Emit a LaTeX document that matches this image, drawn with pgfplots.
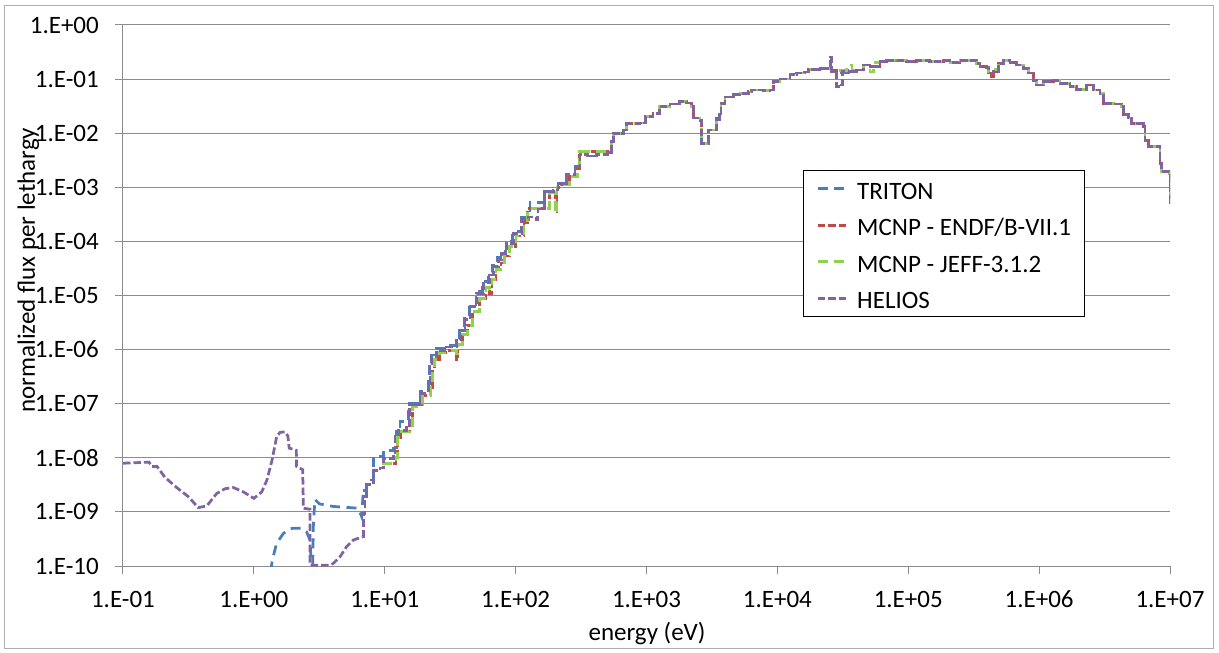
\documentclass[border=0pt]{standalone}
\usepackage{fontspec}
\setmainfont{Carlito}
\usepackage{pgfplots}
\pgfplotsset{compat=1.18}

\definecolor{axisgray}{RGB}{140,140,140}
\definecolor{framegray}{RGB}{175,175,175}
\definecolor{triton}{RGB}{74,126,187}
\definecolor{endf}{RGB}{190,75,72}
\definecolor{jeff}{RGB}{146,208,80}
\definecolor{helios}{RGB}{128,100,162}

\newcommand{\chartfont}{\fontsize{25bp}{30bp}\selectfont}

\begin{document}
\begin{tikzpicture}
\useasboundingbox (0,0) rectangle (1219bp,653bp);
\draw[framegray, line width=1bp] (4bp,4bp) rectangle (1213bp,647bp);
\begin{axis}[
  at={(123bp,87bp)}, anchor=south west,
  scale only axis, width=1047bp, height=541bp,
  xmode=log, ymode=log,
  xmin=1e-1, xmax=1e7, ymin=1e-10, ymax=1,
  axis lines*=left,
  axis line style={draw=axisgray, line width=1bp},
  xtick={1e-1,1,1e1,1e2,1e3,1e4,1e5,1e6,1e7},
  xticklabels={1.E-01,1.E+00,1.E+01,1.E+02,1.E+03,1.E+04,1.E+05,1.E+06,1.E+07},
  ytick={1e-10,1e-9,1e-8,1e-7,1e-6,1e-5,1e-4,1e-3,1e-2,1e-1,1},
  yticklabels={1.E-10,1.E-09,1.E-08,1.E-07,1.E-06,1.E-05,1.E-04,1.E-03,1.E-02,1.E-01,1.E+00},
  xminorticks=false, yminorticks=false,
  tick align=outside, major tick length=8bp,
  tick style={draw=axisgray, line width=1bp},
  ymajorgrids, grid style={draw=axisgray, line width=1bp},
  tick label style={font=\chartfont},
  xticklabel style={anchor=base, inner sep=0pt, yshift=-33bp},
  yticklabel style={anchor=east, inner sep=0pt, xshift=-16bp},
  label style={font=\chartfont},
  xlabel={energy (eV)},
  xlabel style={at={(axis description cs:0.5005,-0.137)}, anchor=base},
  ylabel={normalized flux per lethargy},
  ylabel style={at={(axis description cs:-0.0841,0.547)}, anchor=base},
  legend style={
    at={(axis description cs:0.6495,0.732)}, anchor=north west,
    draw=black, line width=0.9bp, fill=white,
    inner xsep=13bp, inner ysep=6bp,
    row sep=12bp, column sep=9bp,
    font=\chartfont,
    nodes={inner sep=0pt},
    cells={anchor=west},
  },
  legend image code/.code={\draw[#1] (0bp,0bp) -- (29bp,0bp);},
  every axis plot/.append style={line width=2.75bp},
]

% ---------------- TRITON ----------------
\addplot[triton, dash pattern=on 10bp off 6.5bp, sharp plot, forget plot] coordinates {
 (1.349,7.94e-11) (1.380,1.26e-10) (1.493,2.63e-10) (1.679,3.98e-10)
 (1.862,4.79e-10) (2.0,5.01e-10) (2.317,5.01e-10) (2.53,4.27e-10)
 (2.685,3.02e-10) (2.742,1.12e-10) (2.818,1.12e-10) (2.851,6.31e-10)
 (2.931,1.70e-9) (3.162,1.41e-9) (4.046,1.26e-9) (6.28,1.17e-9)
 (6.67,8.13e-10) (6.86,2.51e-9)
};
\addplot[triton, dash pattern=on 10bp off 6.5bp, const plot mark left] coordinates {
 (6.86,2.51e-9) (7.28,3.89e-9) (8.18,1.05e-8) (9.75,1.38e-8)
 (11.6,1.51e-8) (12.3,3.02e-8) (13.1,4.68e-8) (14.7,5.01e-8)
 (15.1,1.02e-7) (17.5,1.12e-7) (18.6,1.66e-7) (21.5,2.63e-7)
 (21.9,6.31e-7) (22.9,7.94e-7) (24.9,1.05e-6) (29.7,1.20e-6)
 (35.1,1.66e-6) (37.2,2.51e-6) (40.6,3.98e-6) (44.3,6.76e-6)
 (49.8,1.17e-5) (56.0,1.82e-5) (62.4,2.63e-5) (66.8,3.63e-5)
 (72.9,5.01e-5) (77.3,6.61e-5) (84.5,1.0e-4) (94.8,1.51e-4)
 (110,2.75e-4) (129,5.25e-4) (158,5.25e-4) (166,8.32e-4)
 (194,8.91e-4) (211,1.17e-3) (245,1.70e-3) (284,2.40e-3)
 (310,3.98e-3) (355,3.80e-3) (417,3.98e-3) (501,4.37e-3)
 (541,6.92e-3) (556,1.0e-2) (664,1.15e-2) (705,1.51e-2)
 (891,1.55e-2) (977,2.04e-2) (1122,2.34e-2) (1259,3.09e-2)
 (1514,3.47e-2) (1799,3.80e-2) (2028,3.63e-2) (2213,3.09e-2)
 (2275,1.91e-2) (2559,1.74e-2) (2636,6.46e-3) (2877,6.46e-3)
 (2965,1.15e-2) (3428,1.82e-2) (3631,2.19e-2) (3715,3.55e-2)
 (3981,4.68e-2) (4603,5.13e-2) (5176,5.50e-2) (5998,5.89e-2)
 (6353,6.31e-2) (7798,6.17e-2) (8770,6.31e-2) (9290,8.91e-2)
 (1.047e4,0.100) (1.247e4,0.120) (1.403e4,0.129) (1.622e4,0.135)
 (1.726e4,0.151) (2.113e4,0.155) (2.512e4,0.158) (2.60e4,0.138)
 (2.818e4,0.129) (4.027e4,0.148) (4.529e4,0.182) (5.093e4,0.170)
 (6.081e4,0.209) (6.839e4,0.224) (8.128e4,0.219) (9.705e4,0.209)
 (1.159e5,0.224) (1.462e5,0.209) (1.862e5,0.219) (2.080e5,0.200)
 (2.483e5,0.219) (2.965e5,0.224) (3.327e5,0.195) (3.532e5,0.170)
 (3.981e5,0.166) (4.093e5,0.129) (4.467e5,0.138) (4.875e5,0.195)
 (5.321e5,0.219) (5.984e5,0.200) (6.730e5,0.182) (7.568e5,0.158)
 (8.260e5,0.129) (9.016e5,0.0955) (9.572e5,0.0776) (1.074e6,0.0891)
 (1.282e6,0.0955) (1.442e6,0.0832) (1.718e6,0.0741) (1.932e6,0.0646)
 (2.307e6,0.0776) (2.594e6,0.0631) (2.917e6,0.0550) (3.090e6,0.0355)
 (3.690e6,0.0347) (4.276e6,0.0309) (4.395e6,0.0219) (4.808e6,0.0191)
 (5.093e6,0.0151) (6.252e6,0.0135) (6.442e6,7.41e-3) (6.839e6,5.75e-3)
 (8.147e6,5.62e-3) (8.395e6,2.75e-3) (8.650e6,1.95e-3) (9.95e6,1.82e-3)
 (9.98e6,5.01e-4)
};
\addlegendentry{\rule[-6bp]{0pt}{29bp}TRITON}

% ---------------- MCNP - ENDF/B-VII.1 ----------------
\addplot[endf, dash pattern=on 7.5bp off 3bp, const plot mark left] coordinates {
 (9.55,7.94e-9) (12.2,1.0e-8) (12.5,2.34e-8) (13.3,3.09e-8)
 (15.4,3.89e-8) (16.2,8.91e-8) (18.4,9.55e-8) (19.5,1.41e-7)
 (22.5,2.00e-7) (23.2,4.47e-7) (23.9,6.61e-7) (26.1,8.91e-7)
 (31.1,9.55e-7) (35.5,6.46e-7) (36.3,1.26e-6) (39.4,1.91e-6)
 (43.0,2.82e-6) (46.9,5.01e-6) (52.7,8.91e-6) (59.3,1.41e-5)
 (63.1,1.10e-5) (66.1,2.0e-5) (70.8,3.02e-5) (77.3,3.98e-5)
 (81.8,5.37e-5) (89.5,7.94e-5) (100.5,1.26e-4) (116,2.24e-4)
 (123,4.07e-4) (182,7.94e-4) (202,3.55e-4) (207,1.0e-3)
 (221,1.12e-3) (257,1.58e-3) (297,2.24e-3) (309,4.57e-3)
 (541,6.92e-3) (556,1.0e-2) (664,1.15e-2) (705,1.51e-2)
 (891,1.55e-2) (977,2.04e-2) (1122,2.34e-2) (1259,3.09e-2)
 (1514,3.47e-2) (1799,3.80e-2) (2028,3.63e-2) (2213,3.09e-2)
 (2275,1.91e-2) (2559,1.74e-2) (2636,6.46e-3) (2877,6.46e-3)
 (2965,1.15e-2) (3428,1.91e-2) (3631,2.19e-2) (3715,3.55e-2)
 (3981,4.68e-2) (4603,5.13e-2) (5176,5.50e-2) (5998,5.89e-2)
 (6353,6.31e-2) (7798,6.17e-2) (8770,6.31e-2) (9290,8.91e-2)
 (1.047e4,0.100) (1.247e4,0.120) (1.403e4,0.129) (1.622e4,0.135)
 (1.726e4,0.151) (2.113e4,0.155) (2.512e4,0.158) (2.60e4,0.145)
 (4.027e4,0.148) (4.529e4,0.182) (5.093e4,0.170)
 (6.081e4,0.209) (6.839e4,0.224) (8.128e4,0.219) (9.705e4,0.209)
 (1.159e5,0.224) (1.462e5,0.209) (1.862e5,0.219) (2.080e5,0.200)
 (2.483e5,0.219) (2.965e5,0.224) (3.327e5,0.195) (3.532e5,0.170)
 (3.981e5,0.166) (4.093e5,0.129) (4.335e5,0.110) (4.467e5,0.138)
 (4.875e5,0.195) (5.321e5,0.219) (5.984e5,0.200) (6.730e5,0.182)
 (7.568e5,0.158) (8.260e5,0.129) (9.016e5,0.0955) (9.572e5,0.0776)
 (1.074e6,0.0891) (1.282e6,0.0955) (1.442e6,0.0832) (1.718e6,0.0741)
 (1.932e6,0.0646) (2.307e6,0.0776) (2.594e6,0.0631) (2.917e6,0.0550)
 (3.090e6,0.0355) (3.690e6,0.0347) (4.276e6,0.0309) (4.395e6,0.0219)
 (4.808e6,0.0191) (5.093e6,0.0151) (6.252e6,0.0135) (6.442e6,7.41e-3)
 (6.839e6,5.75e-3) (8.147e6,5.62e-3) (8.395e6,2.75e-3) (8.650e6,1.95e-3)
 (9.95e6,1.82e-3) (9.98e6,5.01e-4)
};
\addlegendentry{\rule[-6bp]{0pt}{29bp}MCNP - ENDF/B-VII.1}

% ---------------- MCNP - JEFF-3.1.2 ----------------
\addplot[jeff, dash pattern=on 10bp off 6.5bp, const plot mark left] coordinates {
 (9.55,7.94e-9) (12.2,1.0e-8) (12.5,2.34e-8) (13.3,3.09e-8)
 (15.4,3.89e-8) (16.2,8.91e-8) (18.4,9.55e-8) (19.5,1.41e-7)
 (22.5,2.00e-7) (23.2,4.47e-7) (23.9,6.61e-7) (26.1,8.91e-7)
 (31.1,9.55e-7) (35.5,8.50e-7) (36.3,1.26e-6) (39.4,1.91e-6)
 (43.0,2.82e-6) (46.9,5.01e-6) (52.7,8.91e-6) (59.3,1.41e-5)
 (63.1,1.30e-5) (66.1,2.0e-5) (70.8,3.02e-5) (77.3,3.98e-5)
 (81.8,5.37e-5) (89.5,7.94e-5) (100.5,1.26e-4) (116,2.24e-4)
 (123,4.07e-4) (182,7.94e-4) (202,3.20e-4) (207,1.0e-3)
 (221,1.12e-3) (257,1.58e-3) (297,2.24e-3) (309,4.57e-3)
 (541,6.92e-3) (556,1.0e-2) (664,1.15e-2) (705,1.51e-2)
 (891,1.55e-2) (977,2.04e-2) (1122,2.34e-2) (1259,3.09e-2)
 (1514,3.47e-2) (1799,3.80e-2) (2028,3.63e-2) (2213,3.09e-2)
 (2275,1.91e-2) (2559,1.74e-2) (2636,6.46e-3) (2877,6.46e-3)
 (2965,1.15e-2) (3428,1.82e-2) (3631,2.19e-2) (3715,3.55e-2)
 (3981,4.68e-2) (4603,5.13e-2) (5176,5.50e-2) (5998,5.89e-2)
 (6353,6.31e-2) (7798,6.17e-2) (8770,6.31e-2) (9290,8.91e-2)
 (1.047e4,0.100) (1.247e4,0.120) (1.403e4,0.129) (1.622e4,0.135)
 (1.726e4,0.151) (2.113e4,0.155) (2.512e4,0.158) (2.60e4,0.145)
 (3.39e4,0.182) (3.72e4,0.148) (4.529e4,0.182) (5.093e4,0.135)
 (5.40e4,0.200) (6.081e4,0.209) (6.839e4,0.224) (8.128e4,0.219)
 (9.705e4,0.209) (1.159e5,0.224) (1.462e5,0.209) (1.862e5,0.219)
 (2.080e5,0.200) (2.483e5,0.219) (2.965e5,0.224) (3.327e5,0.195)
 (3.532e5,0.170) (3.981e5,0.166) (4.093e5,0.135) (4.467e5,0.150)
 (4.875e5,0.195) (5.321e5,0.219) (5.984e5,0.200) (6.730e5,0.182)
 (7.568e5,0.158) (8.260e5,0.129) (9.016e5,0.0955) (9.572e5,0.0776)
 (1.074e6,0.0891) (1.282e6,0.0955) (1.442e6,0.0832) (1.718e6,0.0741)
 (1.932e6,0.0646) (2.307e6,0.0776) (2.594e6,0.0631) (2.917e6,0.0550)
 (3.090e6,0.0355) (3.690e6,0.0347) (4.276e6,0.0309) (4.395e6,0.0219)
 (4.808e6,0.0191) (5.093e6,0.0151) (6.252e6,0.0135) (6.442e6,7.41e-3)
 (6.839e6,5.75e-3) (8.147e6,5.62e-3) (8.395e6,2.75e-3) (8.650e6,1.95e-3)
 (9.95e6,1.82e-3) (9.98e6,5.01e-4)
};
\addlegendentry{\rule[-6bp]{0pt}{29bp}MCNP - JEFF-3.1.2}

% ---------------- HELIOS ----------------
\addplot[helios, dash pattern=on 7.5bp off 3bp, sharp plot, forget plot] coordinates {
 (0.1,7.94e-9) (0.158,8.32e-9) (0.166,6.92e-9) (0.182,6.92e-9)
 (0.209,4.37e-9) (0.257,2.82e-9) (0.316,1.91e-9) (0.376,1.20e-9)
 (0.437,1.29e-9) (0.52,2.19e-9) (0.603,2.69e-9) (0.697,2.82e-9)
 (0.832,2.34e-9) (1.0,1.78e-9) (1.148,2.34e-9) (1.259,3.89e-9)
 (1.368,8.51e-9) (1.493,2.45e-8) (1.585,2.95e-8) (1.73,3.02e-8)
 (1.82,2.51e-8) (1.862,1.51e-8) (2.11,1.38e-8) (2.12,6.92e-9)
 (2.36,6.03e-9) (2.39,1.17e-9) (2.69,1.12e-9) (2.69,1.035e-10)
 (3.80,1.035e-10) (4.05,1.12e-10) (4.55,1.48e-10) (5.12,2.29e-10)
 (5.75,3.02e-10) (6.78,3.47e-10)
};
\addplot[helios, dash pattern=on 7.5bp off 3bp, const plot mark left] coordinates {
 (6.78,3.47e-10) (6.86,9.33e-10) (7.06,1.91e-9) (7.28,3.16e-9)
 (8.18,5.75e-9) (9.18,6.46e-9) (9.75,9.77e-9) (11.6,1.05e-8)
 (12.0,2.45e-8) (12.7,3.24e-8) (14.7,4.07e-8) (15.5,9.55e-8)
 (17.5,1.02e-7) (18.6,1.55e-7) (21.5,2.40e-7) (22.2,5.62e-7)
 (22.9,7.41e-7) (24.9,9.77e-7) (29.7,1.12e-6) (35.5,1.51e-6)
 (37.6,2.29e-6) (41.0,3.55e-6) (44.8,6.17e-6) (50.4,1.10e-5)
 (56.6,1.70e-5) (63.1,2.40e-5) (67.6,3.39e-5) (73.8,4.57e-5)
 (78.2,6.03e-5) (85.5,9.12e-5) (95.9,1.41e-4) (111,2.51e-4)
 (126,2.82e-4) (145,2.51e-4) (148,3.98e-4) (166,8.32e-4)
 (194,8.91e-4) (211,1.17e-3) (245,1.70e-3) (284,2.40e-3)
 (310,3.98e-3) (355,3.80e-3) (417,3.98e-3) (501,4.37e-3)
 (541,6.92e-3) (556,1.0e-2) (664,1.15e-2) (705,1.51e-2)
 (891,1.55e-2) (977,2.04e-2) (1122,2.34e-2) (1259,3.09e-2)
 (1514,3.47e-2) (1799,3.80e-2) (2028,3.63e-2) (2213,3.09e-2)
 (2275,1.91e-2) (2559,1.74e-2) (2636,6.46e-3) (2877,6.46e-3)
 (2965,1.15e-2) (3428,1.82e-2) (3631,2.19e-2) (3715,3.55e-2)
 (3981,4.68e-2) (4603,5.13e-2) (5176,5.50e-2) (5998,5.89e-2)
 (6353,6.31e-2) (7798,6.17e-2) (8770,6.31e-2) (9290,8.91e-2)
 (1.047e4,0.100) (1.247e4,0.120) (1.403e4,0.129) (1.622e4,0.135)
 (1.726e4,0.151) (2.113e4,0.155) (2.512e4,0.158) (2.541e4,0.257)
 (2.60e4,0.138) (2.818e4,0.138) (2.831e4,0.0724) (3.09e4,0.0776)
 (3.162e4,0.138) (4.027e4,0.148) (4.529e4,0.182) (5.093e4,0.170)
 (6.081e4,0.209) (6.839e4,0.224) (8.128e4,0.219) (9.705e4,0.209)
 (1.159e5,0.224) (1.462e5,0.209) (1.862e5,0.219) (2.080e5,0.200)
 (2.483e5,0.219) (2.965e5,0.224) (3.327e5,0.195) (3.532e5,0.170)
 (3.981e5,0.166) (4.093e5,0.129) (4.467e5,0.138) (4.875e5,0.195)
 (5.321e5,0.219) (5.984e5,0.200) (6.730e5,0.182) (7.568e5,0.158)
 (8.260e5,0.129) (9.016e5,0.0955) (9.572e5,0.0776) (1.074e6,0.0891)
 (1.282e6,0.0955) (1.442e6,0.0832) (1.718e6,0.0741) (1.932e6,0.0646)
 (2.307e6,0.0776) (2.594e6,0.0631) (2.917e6,0.0550) (3.090e6,0.0355)
 (3.690e6,0.0347) (4.276e6,0.0309) (4.395e6,0.0219) (4.808e6,0.0191)
 (5.093e6,0.0151) (6.252e6,0.0135) (6.442e6,7.41e-3) (6.839e6,5.75e-3)
 (8.147e6,5.62e-3) (8.395e6,2.75e-3) (8.650e6,1.95e-3) (9.95e6,1.82e-3)
 (9.98e6,5.01e-4)
};
\addlegendentry{\rule[-6bp]{0pt}{29bp}HELIOS}

\end{axis}
\end{tikzpicture}
\end{document}
